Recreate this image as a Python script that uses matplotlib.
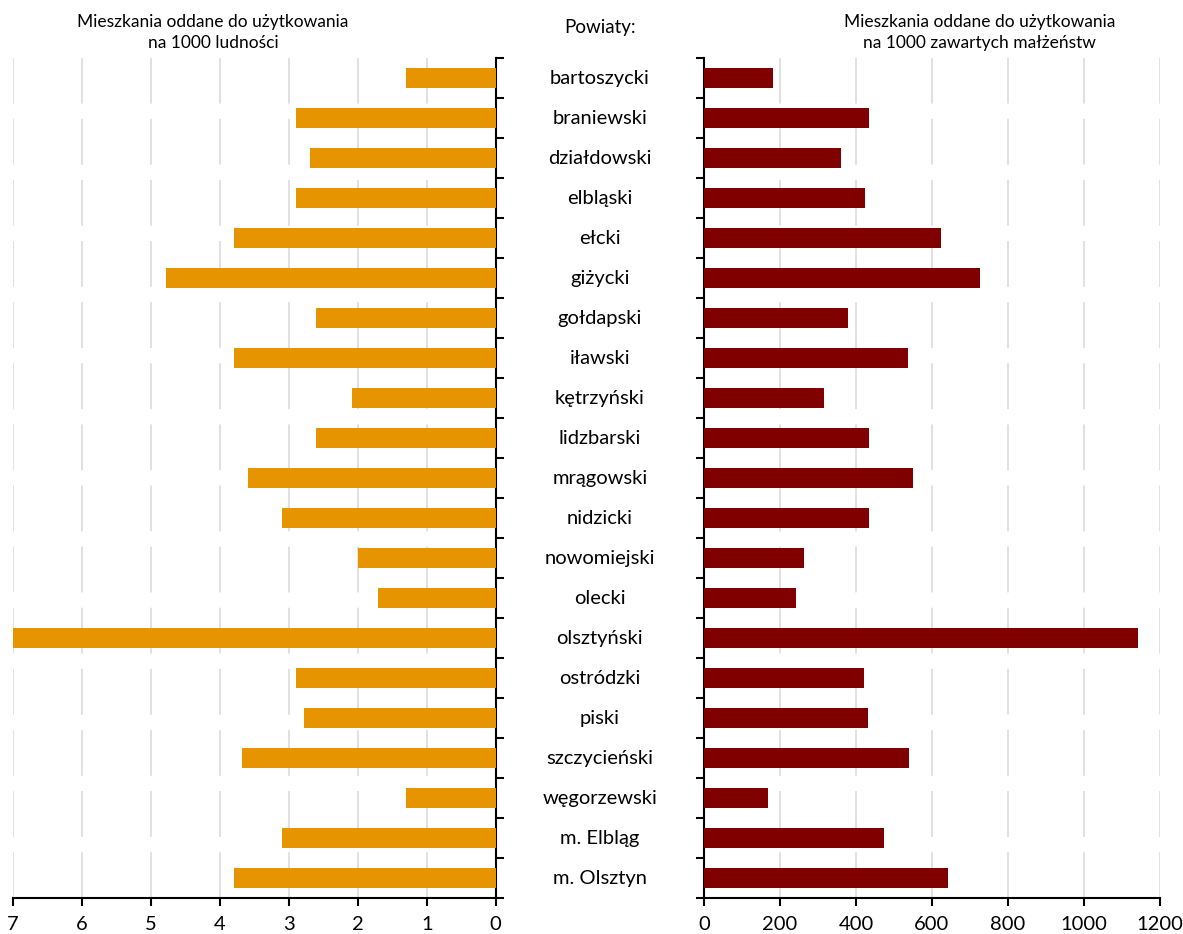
import matplotlib.pyplot as plt
import numpy as np

# Powiaty (kolejność od góry)
powiaty = ["bartoszycki", "braniewski", "działdowski", "elbląski", "ełcki",
           "giżycki", "gołdapski", "iławski", "kętrzyński", "lidzbarski",
           "mrągowski", "nidzicki", "nowomiejski", "olecki", "olsztyński",
           "ostródzki", "piski", "szczycieński", "węgorzewski", "m. Elbląg",
           "m. Olsztyn"]

# Mieszkania na 1000 ludności
na_ludnosc = [1.3, 2.9, 2.7, 2.9, 3.8, 4.78, 2.61, 3.8, 2.09, 2.61,
              3.59, 3.1, 2.0, 1.71, 7.0, 2.9, 2.78, 3.68, 1.3, 3.1, 3.8]

# Mieszkania na 1000 zawartych małżeństw
na_malzenstwa = [182, 434, 361, 424, 624, 726, 379, 537, 316, 434,
                 550, 434, 263, 242, 1142, 421, 432, 539, 168, 474, 642]

lewe_ticki = [7, 6, 5, 4, 3, 2, 1, 0]
prawe_ticki = [0, 200, 400, 600, 800, 1000, 1200]

plt.rcParams['font.family'] = ['Lato', 'DejaVu Sans']

fig = plt.figure(figsize=(11.83, 9.34), dpi=100)
ax_l = fig.add_axes([0.011, 0.0385, 0.408, 0.899])
ax_r = fig.add_axes([0.595, 0.0385, 0.3855, 0.899])

n = len(powiaty)
y = np.arange(n)

ax_l.barh(y, na_ludnosc, height=0.5, color="#E69500", zorder=3)
ax_r.barh(y, na_malzenstwa, height=0.5, color="#800000", zorder=3)

ax_l.set_xlim(7, 0)
ax_r.set_xlim(0, 1200)
ax_l.set_xticks(lewe_ticki)
ax_r.set_xticks(prawe_ticki)

for ax in (ax_l, ax_r):
    ax.set_ylim(n - 0.5, -0.5)
    ax.set_yticks(np.arange(n + 1) - 0.5)
    ax.set_yticklabels([])
    ax.spines['top'].set_visible(False)
    ax.xaxis.grid(True, color="#d9d9d9", linewidth=1.1, linestyle=(0, (30, 10)))
    ax.set_axisbelow(True)
    ax.tick_params(axis='x', length=6, width=1.5, labelsize=14.5, pad=7)
    ax.tick_params(axis='y', length=5.5, width=1.5)
    for s in ax.spines.values():
        s.set_linewidth(1.5)

ax_l.spines['left'].set_visible(False)
ax_l.yaxis.tick_right()
ax_r.spines['right'].set_visible(False)

# nazwy powiatów w środku
for i, nazwa in enumerate(powiaty):
    yy = ax_l.transData.transform((0, i))[1]
    fig.text(0.507, fig.transFigure.inverted().transform((0, yy))[1], nazwa,
             ha='center', va='center', fontsize=14.5)

fig.text(0.18, 0.965, "Mieszkania oddane do użytkowania\nna 1000 ludności",
         ha='center', va='center', fontsize=12.5, linespacing=1.4)
fig.text(0.507, 0.971, "Powiaty:", ha='center', va='center', fontsize=13.5)
fig.text(0.828, 0.965, "Mieszkania oddane do użytkowania\nna 1000 zawartych małżeństw",
         ha='center', va='center', fontsize=12.5, linespacing=1.4)

fig.savefig("out.png", dpi=100)
